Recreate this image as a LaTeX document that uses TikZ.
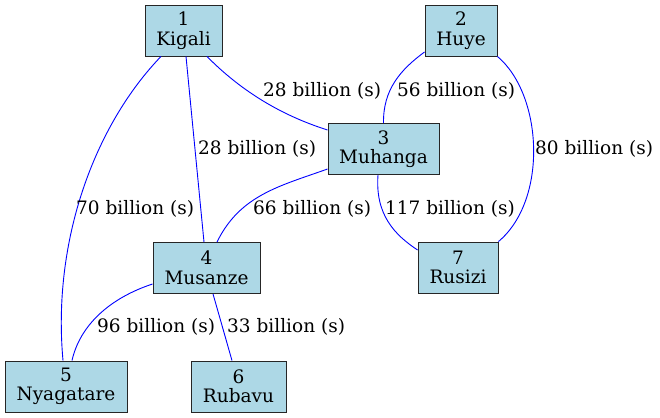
\documentclass[tikz,border=0pt]{standalone}
\usepackage{fontspec}
\setmainfont{DejaVu Serif}
\definecolor{lblue}{RGB}{173,216,230}
\begin{document}
\begin{tikzpicture}[x=1pt,y=-1pt,
  city/.style={draw=black!85, line width=0.9pt, fill=lblue, minimum width=#1, minimum height=51pt,
    inner sep=0pt, align=center, font=\fontsize{18.5}{19.5}\selectfont},
  edge/.style={draw=blue, line width=0.9pt},
  elabel/.style={anchor=base west, inner sep=0pt, font=\fontsize{18.5}{19.5}\selectfont}]
\useasboundingbox (0,0) rectangle (660,417);
\node[city=77pt] (k)  at (183.5,30.5) {1\\Kigali};
\node[city=72pt] (h)  at (461,30.5) {2\\Huye};
\node[city=111pt] (m)  at (383.5,149) {3\\Muhanga};
\node[city=107pt] (mu) at (206.5,268) {4\\Musanze};
\node[city=122pt] (n) at (66,386.5) {5\\Nyagatare};
\node[city=95pt] (rb) at (238.5,386.5) {6\\Rubavu};
\node[city=80pt] (r)  at (458,267.5) {7\\Rusizi};

\draw[edge] ([xshift=-22.5pt]k.south) .. controls (95,125) and (52,240) .. ([xshift=-3pt]n.north);
\draw[edge] ([xshift=2.5pt]k.south) -- ([xshift=-2.5pt]mu.north);
\draw[edge] ([xshift=23.5pt]k.south) .. controls (240,90) and (280,115) .. ([yshift=19pt]m.west);
\draw[edge] ([yshift=-21.5pt]h.west) .. controls (400,70) and (383,90) .. (m.north);
\draw[edge] (h.south east) .. controls (543,95) and (548,200) .. (r.north east);
\draw[edge] ([yshift=-20pt]m.west) .. controls (280,186) and (240,195) .. ([xshift=10.5pt]mu.north);
\draw[edge] ([xshift=-5.5pt]m.south) .. controls (375,215) and (395,235) .. ([yshift=17.5pt]r.west);
\draw[edge] ([yshift=-16pt]mu.west) .. controls (110,298) and (80,325) .. ([xshift=6pt]n.north);
\draw[edge] ([xshift=6.5pt]mu.south) -- ([xshift=-6.5pt]rb.north);

\node[elabel] (l13) at (263,96) {28 billion (s)};
\node[elabel] (l23) at (397,96) {56 billion (s)};
\node[elabel] (l14) at (198,154) {28 billion (s)};
\node[elabel] (l27) at (535,154) {80 billion (s)};
\node[elabel] (l15) at (76,214) {70 billion (s)};
\node[elabel] (l34) at (253,214) {66 billion (s)};
\node[elabel] (l37) at (385,214) {117 billion (s)};
\node[elabel] (l45) at (97,332) {96 billion (s)};
\node[elabel] (l46) at (227,332) {33 billion (s)};
\end{tikzpicture}
\end{document}
